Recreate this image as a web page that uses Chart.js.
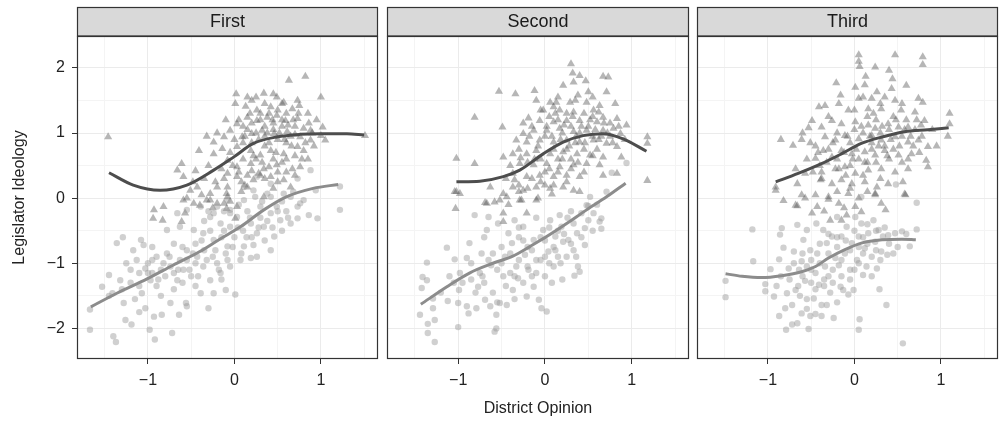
<!DOCTYPE html>
<html>
<head>
<meta charset="utf-8">
<script src="https://cdn.jsdelivr.net/npm/chart.js@4/dist/chart.umd.min.js"></script>
<style>
  html, body { margin: 0; padding: 0; background: #fff; }
  #wrap { position: relative; width: 999px; height: 421px; }
  canvas { position: absolute; top: 0; }
</style>
</head>
<body>
<div id="wrap">
  <canvas id="c1" width="380" height="421" style="left:0px"></canvas>
  <canvas id="c2" width="310" height="421" style="left:380px"></canvas>
  <canvas id="c3" width="309" height="421" style="left:690px"></canvas>
</div>
<script>
// panel titles and axis ticks
var panelNames = ['First', 'Second', 'Third'];
var xTickVals = [-1.5, -1, -0.5, 0, 0.5, 1, 1.5];
var yTickVals = [-2, -1.5, -1, -0.5, 0, 0.5, 1, 1.5, 2];
var X_MIN = -1.82, X_MAX = 1.66;
var Y_MIN = -2.47, Y_MAX = 2.49;

// First panel: triangles (upper group) and circles (lower group), [district opinion, ideology]
var firstTri = [[-1.46,0.94],[0.02,1.6],[0.34,1.61],[0.49,1.55],[0.63,1.81],[0.82,1.87],[1.0,1.55],[0.73,1.5],[0.13,1.41],[0.26,1.35],[0.42,1.4],[0.57,1.47],[0.67,1.37],[0.01,1.45],[0.03,1.14],[0.15,1.24],[0.26,1.19],[0.38,1.24],[0.49,1.27],[0.59,1.19],[0.73,1.22],[0.8,1.07],[0.88,1.04],[1.02,1.09],[1.05,0.89],[1.0,0.96],[1.51,0.96],[-0.24,0.86],[-0.12,0.94],[-0.05,1.04],[0.09,0.94],[0.2,0.99],[0.32,1.04],[0.46,0.99],[0.61,1.02],[0.76,0.94],[0.88,0.89],[-0.41,0.73],[-0.24,0.68],[-0.14,0.76],[0.03,0.79],[0.19,0.73],[0.3,0.66],[0.42,0.73],[0.57,0.68],[0.73,0.79],[0.8,0.73],[-0.61,0.53],[-0.66,0.43],[-0.59,0.33],[-0.08,0.58],[0.03,0.48],[0.19,0.53],[0.34,0.45],[0.49,0.51],[0.67,0.45],[0.76,0.48],[-0.08,0.38],[0.03,0.33],[0.15,0.35],[0.28,0.38],[0.42,0.33],[0.57,0.28],[0.65,0.17],[-0.43,0.17],[-0.51,0.12],[-0.28,0.07],[-0.2,0.17],[-0.08,0.17],[0.15,0.17],[0.34,0.02],[-0.59,-0.03],[-0.47,-0.08],[-0.28,-0.03],[-0.08,0.02],[-0.93,-0.18],[-0.82,-0.13],[-0.12,-0.08],[0.03,-0.13],[-0.94,-0.31],[-0.83,-0.34],[-0.09,0.07],[-0.32,-0.03],[-0.4,-0.11],[-0.2,-0.08],[-0.09,-0.16],[0.01,-0.31],[-0.57,-0.23],[-0.61,-0.36],
  [0.1,1.1],[0.2,1.15],[0.3,1.2],[0.35,1.1],[0.45,1.15],[0.55,1.1],[0.4,1.3],[0.3,1.3],[0.5,1.35],[0.6,1.3],[0.25,1.0],[0.35,0.95],[0.5,0.9],[0.6,0.85],[0.65,0.95],[0.7,1.1],[0.1,0.85],[0.2,0.85],[0.35,0.8],[0.45,0.6],[0.55,0.55],[0.6,0.6],[0.1,0.6],[0.25,0.6],[0.05,0.4],[0.2,0.42],[0.35,0.3],[0.5,0.4],[0.0,0.9],[-0.05,0.7],[0.15,1.05],[0.45,1.05],[0.7,0.65],[0.85,0.6],[0.9,1.0],[0.55,1.2],[0.35,1.45],[0.2,1.5],[0.75,1.42],[-0.3,0.5],[-0.15,0.45],[-0.35,0.3],[-0.45,0.42],[0.12,0.2],[0.45,0.15],[0.7,0.35],
  [0.05,1.2],[0.12,0.95],[0.18,1.3],[0.22,0.65],[0.28,0.9],[0.32,0.55],[0.38,1.0],[0.4,0.85],[0.44,1.2],[0.48,0.7],[0.52,1.0],[0.58,0.9],[0.62,1.12],[0.66,0.8],[0.7,0.98],[0.74,1.3],[0.78,0.6],[0.82,0.85],[0.86,1.15],[0.92,0.8],[0.3,0.35],[0.4,0.48],[0.5,0.25],[0.6,0.4],[0.08,0.25],[0.22,0.28],[-0.02,0.5],[-0.12,0.3],[-0.22,0.25],[-0.38,0.05],[-0.48,0.25],[-0.55,0.0],[-0.25,-0.15],[-0.05,-0.05],[0.08,0.1],[0.25,1.55],[0.45,1.6],[0.55,1.45],[0.15,1.55],[-0.1,1.2],[-0.2,1.0],[-0.32,0.95],[0.95,1.2],[0.68,1.2],[0.85,1.3]];
var firstCirc = [[-1.67,-1.71],[-1.67,-2.02],[-1.4,-2.12],[-1.37,-2.21],[-1.53,-1.36],[-1.45,-1.18],[-1.41,-1.46],[-1.36,-0.69],[-1.29,-0.6],[-1.32,-1.26],[-1.28,-1.61],[-1.26,-1.87],[-1.19,-1.94],[-1.17,-0.8],[-1.08,-0.64],[-1.05,-0.72],[-1.13,-0.95],[-1.03,-1.08],[-0.97,-1.26],[-1.07,-1.46],[-1.03,-1.69],[-0.98,-2.02],[-0.92,-2.17],[-0.93,-1.82],[-0.84,-1.79],[-0.74,-1.61],[-0.72,-2.07],[-0.9,-0.9],[-0.78,-0.85],[-0.74,-1.05],[-0.66,-1.26],[-0.59,-1.1],[-0.63,-0.95],[-0.55,-0.8],[-0.43,-0.9],[-0.36,-1.05],[-0.28,-1.26],[-0.39,-1.46],[-0.55,-1.66],[-0.64,-1.79],[-0.56,-1.61],[-0.3,-1.69],[-0.24,-1.46],[-0.1,-1.41],[0.01,-1.48],[-0.16,-1.15],[-0.05,-1.05],[0.07,-0.95],[0.19,-0.92],[0.26,-0.9],[0.11,-0.74],[-0.08,-0.74],[-0.24,-0.64],[-0.36,-0.54],[-0.47,-0.49],[-0.63,-0.44],[-0.78,-0.49],[-0.66,-0.23],[-0.55,-0.18],[-0.39,-0.13],[-0.28,-0.29],[-0.16,-0.39],[-0.05,-0.44],[0.03,-0.29],[0.19,-0.39],[0.26,-0.54],[0.34,-0.44],[0.42,-0.8],[0.46,-0.59],[0.53,-0.34],[0.42,-0.23],[0.49,-0.13],[0.3,-0.13],[0.11,-0.03],[-0.08,-0.03],[-0.2,-0.13],[-0.05,-0.23],[0.65,-0.39],[0.73,-0.31],[0.73,-0.13],[0.86,-0.26],[0.96,-0.31],[0.94,0.12],[1.22,0.18],[1.22,-0.18],[0.8,-0.03],[0.65,0.02],[0.38,0.07],[0.22,0.12],[0.88,0.43],[0.73,0.3],[0.57,0.07],[0.42,0.02],[0.24,0.02],[0.11,0.17],[0.26,0.33],[0.42,0.22],[0.76,-0.08],[-0.24,-0.23],[-0.05,-0.18],
  [-1.0,-1.0],[-0.95,-1.15],[-0.85,-1.1],[-0.8,-1.2],[-0.7,-1.15],[-0.6,-1.3],[-0.5,-1.2],[-0.45,-1.0],[-0.55,-0.95],[-0.35,-0.8],[-0.25,-0.9],[-0.15,-0.6],[-0.2,-1.0],[-0.1,-0.85],[0.0,-0.6],[0.1,-0.5],[0.2,-0.6],[0.3,-0.3],[0.15,-0.2],[-0.35,-0.35],[-0.45,-0.7],[-0.7,-0.7],[-0.9,-1.35],[-1.1,-1.15],[-1.2,-1.3],[-1.15,-1.55],[-0.85,-1.5],[-0.45,-1.35],[-0.15,-1.25],[0.35,-0.65],[0.55,-0.5],[0.6,-0.2],[-0.95,-0.75],[-1.25,-1.0],
  [-1.2,-1.1],[-1.1,-1.35],[-1.0,-1.15],[-0.95,-0.95],[-0.88,-1.25],[-0.82,-1.0],[-0.75,-0.9],[-0.7,-1.4],[-0.65,-1.1],[-0.6,-0.75],[-0.52,-1.1],[-0.48,-0.85],[-0.42,-1.2],[-0.38,-0.65],[-0.32,-0.95],[-0.28,-0.5],[-0.22,-0.8],[-0.18,-1.1],[-0.12,-0.5],[-0.08,-0.95],[-0.02,-0.75],[0.04,-0.45],[0.08,-0.85],[0.14,-0.6],[0.18,-0.3],[0.22,-0.72],[0.28,-0.45],[0.32,-0.05],[0.38,-0.35],[0.44,-0.45],[0.5,-0.2],[0.55,-0.05],[0.62,-0.3],[0.68,0.1],[-0.3,-0.2],[-0.12,-0.2],[0.05,-0.1],[-1.3,-1.4],[-1.45,-1.5],[-1.1,-1.75]];
var firstTriFit = [[-1.45,0.39],[-1.17,0.2],[-0.86,0.12],[-0.55,0.2],[-0.24,0.43],[-0.01,0.63],[0.22,0.84],[0.49,0.94],[0.76,0.98],[0.99,0.99],[1.3,0.99],[1.5,0.97]];
var firstCircFit = [[-1.66,-1.67],[-1.36,-1.46],[-1.01,-1.24],[-0.71,-1.03],[-0.4,-0.82],[-0.17,-0.63],[0.07,-0.44],[0.34,-0.18],[0.6,0.02],[0.91,0.15],[1.2,0.21]];

// Second panel
var secondTri = [[0.3,2.06],[0.32,1.92],[0.4,1.88],[0.67,1.87],[0.73,1.86],[0.21,1.73],[0.33,1.78],[0.47,1.8],[0.5,1.63],[0.71,1.63],[0.38,1.58],[-0.53,1.64],[-0.34,1.6],[-0.12,1.65],[-0.81,1.24],[-0.19,1.23],[-0.49,1.09],[-1.02,0.61],[-0.81,0.53],[-1.04,0.1],[-0.98,0.07],[1.18,0.94],[1.18,0.84],[1.18,0.27],[0.94,1.12],[0.83,1.22],[0.81,1.45],[0.63,1.42],[0.06,1.47],[0.13,1.47],[0.29,1.47],[0.48,1.47],[-0.02,1.35],[0.17,1.35],[0.33,1.32],[0.56,1.35],[0.67,1.24],[-0.06,1.19],[0.1,1.17],[0.25,1.19],[0.4,1.19],[0.6,1.17],[0.79,1.07],[-0.13,1.04],[0.02,1.04],[0.17,1.07],[0.33,1.02],[0.48,1.04],[0.67,1.04],[0.87,0.99],[-0.25,0.99],[-0.33,0.89],[-0.21,0.86],[-0.06,0.89],[0.1,0.86],[0.25,0.89],[0.4,0.86],[0.56,0.89],[0.71,0.84],[0.83,0.79],[-0.48,0.63],[-0.37,0.68],[-0.21,0.68],[-0.1,0.73],[0.06,0.68],[0.21,0.71],[0.37,0.68],[0.52,0.66],[0.67,0.63],[0.88,0.63],[-0.29,0.53],[-0.13,0.51],[0.02,0.53],[0.17,0.48],[0.33,0.51],[0.48,0.53],[0.63,0.51],[-0.37,0.38],[-0.21,0.33],[-0.06,0.35],[0.1,0.33],[0.25,0.35],[0.4,0.33],[0.67,0.35],[0.83,0.38],[-0.63,0.17],[-0.48,0.07],[-0.37,0.17],[-0.25,0.12],[-0.1,0.17],[0.06,0.15],[0.21,0.17],[0.33,0.12],[-0.67,-0.08],[-0.52,-0.03],[-0.44,0.02],[-0.29,-0.03],[-0.1,-0.03],[-1.03,-0.16],[-1.02,0.1],[-0.69,-0.07],[-0.58,-0.06],[-0.48,-0.23],[-0.48,-0.36],[-0.21,-0.23],[-0.27,-0.03],[-0.08,0.0],[0.08,0.06],[0.4,0.1],
  [0.05,1.25],[0.15,1.2],[0.2,1.0],[0.3,1.1],[0.4,1.0],[0.5,1.1],[0.55,0.95],[0.65,0.95],[0.75,0.95],[0.0,0.95],[0.1,0.75],[0.25,0.75],[0.3,0.6],[0.45,0.75],[0.6,0.75],[-0.05,0.6],[0.15,0.6],[0.35,0.85],[0.45,1.3],[0.25,1.3],[0.1,1.4],[0.55,1.25],[0.75,1.15],[-0.15,1.1],[-0.3,0.75],[-0.4,0.5],[-0.15,0.3],[0.0,0.2],[-0.3,0.2],[0.15,0.4],[0.45,0.4],[-0.2,0.55],[0.05,0.45],[0.3,0.45],[-0.45,0.3],
  [0.02,1.1],[0.08,0.95],[0.12,1.3],[0.18,0.9],[0.22,1.12],[0.28,0.8],[0.32,1.25],[0.36,0.95],[0.42,1.1],[0.46,0.85],[0.52,1.2],[0.58,1.05],[0.62,0.9],[0.68,1.15],[0.72,1.0],[0.78,0.85],[0.85,1.1],[0.92,0.9],[-0.08,0.8],[-0.18,0.95],[-0.28,0.62],[-0.12,0.6],[0.0,0.4],[0.2,0.6],[0.38,0.55],[0.55,0.65],[-0.35,0.28],[-0.2,0.15],[-0.05,0.25],[0.1,0.2],[0.25,0.25],[-0.42,-0.1],[-0.3,0.1],[0.15,1.55],[0.35,1.5],[0.55,1.55],[0.62,1.32],[-0.05,1.35],[-0.1,1.5],[-0.25,1.15]];
var secondCirc = [[-1.44,-1.79],[-1.42,-1.38],[-1.41,-1.21],[-1.36,-1.26],[-1.36,-0.99],[-1.35,-1.93],[-1.35,-2.07],[-1.27,-2.21],[-1.27,-1.87],[-1.29,-1.69],[-1.29,-1.54],[-1.13,-0.76],[-1.12,-1.58],[-1.04,-0.94],[-1.0,-1.98],[-1.0,-1.61],[-0.99,-1.41],[-0.98,-1.15],[-0.9,-0.92],[-0.9,-1.66],[-0.88,-1.77],[-0.87,-0.69],[-0.81,-0.26],[-0.79,-1.69],[-0.77,-1.36],[-0.75,-1.15],[-0.73,-0.85],[-0.69,-1.56],[-0.67,-0.49],[-0.65,-0.29],[-0.63,-1.66],[-0.62,-1.03],[-0.58,-2.05],[-0.56,-2.0],[-0.56,-1.79],[-0.54,-0.39],[-0.52,-1.61],[-0.48,-1.2],[-0.46,-0.9],[-0.44,-1.64],[-0.42,-0.54],[-0.38,-0.69],[-0.37,-1.41],[-0.35,-0.34],[-0.33,-1.05],[-0.31,-1.23],[-0.25,-0.44],[-0.23,-0.87],[-0.21,-1.51],[-0.19,-1.1],[-0.13,-0.64],[-0.13,-1.36],[-0.1,-0.95],[-0.07,-1.56],[-0.04,-1.69],[-0.02,-0.49],[0.0,-1.2],[0.02,-1.74],[0.04,-0.82],[0.06,-0.34],[0.1,-1.05],[0.12,-0.59],[0.15,-0.9],[0.17,-0.26],[0.19,-0.44],[0.21,-0.67],[0.27,-0.64],[0.33,-0.39],[0.33,-0.8],[0.34,-1.19],[0.37,-0.54],[0.38,-1.05],[0.4,-1.13],[0.42,-0.23],[0.46,-0.46],[0.46,-0.72],[0.48,-0.11],[0.5,-0.34],[0.52,0.02],[0.56,-0.23],[0.65,-0.31],[0.65,-0.47],[0.71,0.1],[0.94,0.54],[0.77,0.39],[0.5,-0.12],[0.63,-0.36],
  [-0.3,-0.95],[-0.2,-0.75],[-0.05,-0.95],[0.05,-1.0],[-0.15,-1.2],[-0.4,-1.15],[-0.6,-0.85],[-0.5,-1.0],[-0.25,-1.3],[0.1,-0.75],[0.25,-0.9],[0.15,-0.5],[0.3,-0.2],[-0.1,-0.3],[-0.3,-0.6],[-0.7,-1.3],[-0.85,-1.25],[-1.05,-1.3],[0.2,-1.25],[0.0,-0.65],
  [-1.2,-1.45],[-1.1,-1.2],[-0.95,-1.3],[-0.85,-1.0],[-0.8,-1.45],[-0.72,-1.2],[-0.65,-0.95],[-0.6,-1.45],[-0.55,-1.1],[-0.5,-0.75],[-0.45,-1.35],[-0.4,-0.85],[-0.35,-1.2],[-0.3,-0.45],[-0.25,-0.65],[-0.2,-1.05],[-0.15,-0.8],[-0.1,-1.15],[-0.05,-0.6],[0.0,-0.9],[0.05,-0.45],[0.08,-1.3],[0.12,-0.8],[0.18,-1.0],[0.22,-0.55],[0.26,-0.3],[0.3,-0.7],[0.36,-0.9],[0.42,-0.6],[0.55,-0.5],[0.6,-0.1],[-0.55,-1.6],[-0.35,-1.55],[-0.7,-0.6]];
var secondTriFit = [[-1.02,0.25],[-0.75,0.26],[-0.48,0.33],[-0.29,0.43],[-0.02,0.68],[0.21,0.86],[0.44,0.96],[0.67,0.99],[0.9,0.91],[1.17,0.72]];
var secondCircFit = [[-1.43,-1.63],[-1.13,-1.36],[-0.87,-1.15],[-0.6,-1.0],[-0.37,-0.89],[-0.17,-0.74],[0.02,-0.59],[0.25,-0.39],[0.48,-0.18],[0.71,0.02],[0.93,0.23]];

// Third panel
var thirdTri = [[0.05,2.2],[0.05,2.1],[0.06,2.02],[0.47,2.2],[0.79,2.17],[0.79,2.05],[0.24,2.01],[0.4,1.96],[0.13,1.87],[0.44,1.83],[-0.21,1.77],[0.01,1.7],[0.12,1.74],[0.6,1.73],[0.26,1.63],[0.43,1.68],[-0.16,1.58],[0.05,1.53],[0.2,1.53],[0.35,1.55],[0.47,1.5],[0.74,1.53],[0.79,1.47],[-0.41,1.4],[-0.34,1.42],[-0.18,1.45],[-0.07,1.35],[0.16,1.37],[0.31,1.37],[0.54,1.35],[0.7,1.32],[1.1,1.3],[1.1,1.14],[1.08,0.95],[0.81,1.19],[-0.49,1.19],[-0.53,1.08],[-0.38,1.09],[-0.26,1.19],[-0.15,1.14],[0.01,1.17],[0.16,1.12],[0.24,1.07],[0.39,1.14],[0.51,1.09],[0.62,1.09],[0.77,1.12],[-0.85,0.9],[-0.71,0.81],[-0.61,0.9],[-0.51,0.85],[-0.45,0.8],[-0.34,0.94],[-0.22,0.89],[-0.11,0.96],[0.05,0.91],[0.2,0.96],[0.31,0.89],[0.47,0.94],[0.62,0.86],[0.74,0.89],[0.85,0.79],[-0.45,0.61],[-0.36,0.73],[-0.26,0.63],[-0.15,0.73],[-0.03,0.68],[0.12,0.71],[0.24,0.66],[0.35,0.73],[0.51,0.66],[0.66,0.68],[0.83,0.58],[0.85,0.48],[-0.68,0.45],[-0.57,0.38],[-0.38,0.4],[-0.22,0.45],[-0.11,0.48],[0.01,0.38],[0.16,0.43],[0.31,0.45],[0.47,0.4],[0.62,0.45],[-0.66,0.22],[-0.91,0.17],[-0.39,0.28],[-0.26,0.22],[-0.15,0.28],[-0.03,0.22],[0.12,0.25],[0.26,0.17],[0.39,0.22],[0.56,0.25],[0.58,0.06],[-0.82,-0.04],[-0.68,-0.11],[-0.61,0.05],[-0.45,0.05],[-0.3,0.02],[-0.18,-0.08],[-0.07,0.07],[0.24,0.07],[0.31,-0.08],[-0.91,0.12],[-0.66,-0.12],[-0.57,0.0],[-0.49,-0.23],[-0.43,-0.13],[-0.3,-0.02],[-0.28,-0.34],[-0.15,-0.34],[-0.09,-0.26],[0.01,-0.13],[0.08,-0.21],[0.24,0.05],[0.36,-0.18],[0.59,0.05],
  [0.1,1.0],[0.2,0.85],[0.25,1.2],[0.3,1.0],[0.35,0.8],[0.4,1.05],[0.45,0.75],[0.55,0.95],[0.6,1.2],[0.65,0.95],[0.7,1.05],[-0.05,0.85],[0.0,1.05],[0.05,0.6],[0.15,0.55],[0.25,0.55],[0.4,0.6],[0.55,0.55],[-0.2,0.6],[-0.3,0.75],[-0.1,0.35],[0.1,0.35],[0.3,0.3],[-0.4,0.5],[0.15,1.25],[0.45,1.25],[-0.2,1.0],[0.75,0.7],[0.2,0.75],[-0.05,0.5],
  [0.02,0.75],[0.08,1.1],[0.12,0.55],[0.18,0.95],[0.22,1.3],[0.28,0.8],[0.32,1.1],[0.38,0.65],[0.42,0.9],[0.48,1.2],[0.52,0.8],[0.58,1.05],[0.62,0.6],[0.68,0.8],[0.72,1.2],[0.78,0.95],[-0.02,0.6],[-0.08,0.95],[-0.12,0.7],[-0.18,0.45],[-0.25,0.85],[-0.32,0.55],[-0.38,0.3],[-0.42,0.7],[-0.48,0.4],[-0.55,0.6],[-0.2,0.1],[-0.05,0.15],[0.05,0.0],[0.15,0.1],[-0.35,-0.2],[-0.12,-0.15],[0.0,1.35],[0.3,1.45],[0.55,1.45],[0.9,1.05],[0.95,0.8],[-0.6,1.0],[-0.3,1.25],[0.1,1.55]];
var thirdCirc = [[-1.49,-1.27],[-1.49,-1.52],[-1.18,-0.48],[-1.17,-0.97],[-1.03,-1.32],[-1.03,-1.43],[-0.97,-1.09],[-0.93,-1.51],[-0.87,-0.94],[-0.87,-1.81],[-0.86,-0.56],[-0.84,-0.46],[-0.82,-0.76],[-0.8,-1.69],[-0.79,-2.02],[-0.78,-1.46],[-0.76,-1.08],[-0.72,-1.64],[-0.72,-1.94],[-0.7,-0.82],[-0.68,-1.41],[-0.66,-1.92],[-0.66,-0.41],[-0.64,-1.1],[-0.63,-1.5],[-0.61,-1.77],[-0.61,-0.97],[-0.59,-0.64],[-0.57,-1.27],[-0.55,-0.49],[-0.53,-2.01],[-0.51,-0.8],[-0.51,-1.81],[-0.5,-1.1],[-0.47,-1.54],[-0.45,-1.78],[-0.44,-0.39],[-0.43,-0.85],[-0.41,-1.33],[-0.38,-1.64],[-0.38,-1.81],[-0.36,-0.49],[-0.34,-1.05],[-0.32,-0.69],[-0.32,-1.64],[-0.3,-1.2],[-0.28,-1.45],[-0.26,-0.59],[-0.24,-1.84],[-0.22,-0.92],[-0.2,-0.29],[-0.18,-1.03],[-0.16,-1.36],[-0.15,-0.59],[-0.13,-1.41],[-0.11,-0.85],[-0.09,-0.44],[-0.07,-1.48],[-0.05,-1.1],[-0.03,-0.69],[-0.01,-1.41],[0.01,-0.29],[0.03,-0.95],[0.05,-0.59],[0.05,-2.02],[0.06,-1.86],[0.08,-0.39],[0.1,-1.18],[0.12,-0.77],[0.14,-1.05],[0.16,-0.54],[0.2,-0.9],[0.22,-0.34],[0.24,-0.67],[0.26,-1.08],[0.28,-0.49],[0.29,-1.4],[0.31,-0.82],[0.33,-0.59],[0.37,-1.64],[0.38,-0.87],[0.39,-0.57],[0.45,-0.85],[0.47,-0.54],[0.55,-0.51],[0.56,-2.23],[0.64,-0.74],[0.72,-0.07],[0.72,-0.48],[0.48,0.21],[0.08,0.02],
  [-0.6,-1.2],[-0.5,-1.3],[-0.45,-1.15],[-0.35,-1.25],[-0.25,-1.1],[-0.15,-0.95],[-0.05,-0.8],[0.05,-0.75],[0.15,-0.7],[-0.4,-1.0],[-0.55,-1.05],[-0.2,-0.75],[0.1,-0.6],[0.25,-0.8],[-0.3,-0.85],[0.0,-1.1],
  [-0.75,-1.25],[-0.7,-1.0],[-0.65,-1.35],[-0.6,-0.85],[-0.55,-1.55],[-0.5,-0.95],[-0.45,-1.4],[-0.4,-0.7],[-0.35,-1.35],[-0.3,-0.55],[-0.25,-1.3],[-0.2,-0.6],[-0.15,-1.2],[-0.1,-0.65],[-0.05,-1.25],[0.0,-0.5],[0.05,-1.0],[0.1,-0.85],[0.15,-0.4],[0.2,-1.2],[0.25,-0.5],[0.3,-0.95],[0.35,-0.45],[0.4,-0.7],[0.5,-0.75],[0.6,-0.55],[-0.85,-1.2],[-0.9,-1.35],[-0.55,-1.7],[-0.2,-1.6]];
var thirdTriFit = [[-0.91,0.25],[-0.65,0.38],[-0.38,0.53],[-0.15,0.68],[0.08,0.84],[0.32,0.94],[0.58,1.02],[0.85,1.05],[1.09,1.08]];
var thirdCircFit = [[-1.49,-1.16],[-1.3,-1.2],[-1.07,-1.22],[-0.84,-1.19],[-0.61,-1.13],[-0.45,-1.05],[-0.3,-0.92],[-0.11,-0.79],[0.08,-0.69],[0.32,-0.64],[0.55,-0.63],[0.71,-0.64]];

var FONT = '"Liberation Sans", Arial, Helvetica, sans-serif';

function toXY(arr) {
  return arr.map(function (p) { return { x: p[0], y: p[1] }; });
}

function fmt(v) {
  return v < 0 ? '\u2212' + Math.abs(v) : String(v);
}

function isMajor(v) { return Math.abs(v - Math.round(v)) < 1e-9; }

// strip on top of each panel + dark panel border
var facetPlugin = {
  id: 'facet',
  afterDraw: function (chart) {
    var a = chart.chartArea, ctx = chart.ctx;
    ctx.save();
    ctx.fillStyle = '#d9d9d9';
    ctx.fillRect(a.left, 7, a.right - a.left, a.top - 7);
    ctx.strokeStyle = '#333';
    ctx.lineWidth = 1.2;
    ctx.strokeRect(a.left + 0.5, 7.5, a.right - a.left - 1, a.top - 7.5);
    ctx.strokeRect(a.left + 0.5, a.top + 0.5, a.right - a.left - 1, a.bottom - a.top - 1);
    ctx.fillStyle = '#1a1a1a';
    ctx.font = '18px ' + FONT;
    ctx.textAlign = 'center';
    ctx.textBaseline = 'middle';
    ctx.fillText(chart.options.plugins.facet.title, (a.left + a.right) / 2, (7 + a.top) / 2 + 1);
    ctx.restore();
  }
};

function makePanel(id, idx, tri, circ, triFit, circFit, pad) {
  var first = idx === 0;
  new Chart(document.getElementById(id), {
    type: 'scatter',
    data: {
      datasets: [
        { type: 'line', data: toXY(triFit), borderColor: '#4d4d4d', borderWidth: 3, pointRadius: 0,
          fill: false, cubicInterpolationMode: 'monotone', order: 0 },
        { type: 'line', data: toXY(circFit), borderColor: '#8c8c8c', borderWidth: 3, pointRadius: 0,
          fill: false, cubicInterpolationMode: 'monotone', order: 0 },
        { data: toXY(tri), pointStyle: 'triangle', pointRadius: 4.7, pointBorderWidth: 0,
          backgroundColor: 'rgba(80,80,80,0.42)', borderColor: 'rgba(0,0,0,0)', order: 2 },
        { data: toXY(circ), pointStyle: 'circle', pointRadius: 3.2, pointBorderWidth: 0,
          backgroundColor: 'rgba(150,150,150,0.45)', borderColor: 'rgba(0,0,0,0)', order: 1 }
      ]
    },
    options: {
      responsive: false,
      animation: false,
      events: [],
      layout: { autoPadding: false, padding: { top: 36, bottom: 0, left: pad[0], right: pad[1] } },
      plugins: {
        legend: { display: false },
        tooltip: { enabled: false },
        facet: { title: panelNames[idx] }
      },
      scales: {
        x: {
          type: 'linear', min: X_MIN, max: X_MAX,
          afterBuildTicks: function (s) { s.ticks = xTickVals.map(function (v) { return { value: v }; }); },
          afterFit: function (s) { s.height = 62; },
          border: { display: false },
          grid: {
            color: function (c) { return isMajor(c.tick.value) ? '#ebebeb' : '#f4f4f4'; },
            lineWidth: 1,
            tickColor: function (c) { return isMajor(c.tick.value) ? '#333' : 'rgba(0,0,0,0)'; },
            tickLength: 5,
            drawTicks: true
          },
          ticks: {
            autoSkip: false, maxRotation: 0, padding: 7, color: '#222',
            font: { family: FONT, size: 16 },
            callback: function (v) { return isMajor(v) ? fmt(v) : ''; }
          },
          title: {
            display: idx === 1, text: 'District Opinion', color: '#222',
            font: { family: FONT, size: 16 }, padding: { top: 0, bottom: 3 }
          }
        },
        y: {
          type: 'linear', min: Y_MIN, max: Y_MAX,
          afterBuildTicks: function (s) { s.ticks = yTickVals.map(function (v) { return { value: v }; }); },
          afterFit: function (s) { s.width = first ? 77 : 0; },
          border: { display: false },
          grid: {
            color: function (c) { return isMajor(c.tick.value) ? '#ebebeb' : '#f4f4f4'; },
            lineWidth: 1,
            tickColor: function (c) { return first && isMajor(c.tick.value) ? '#333' : 'rgba(0,0,0,0)'; },
            tickLength: first ? 5 : 0,
            drawTicks: first
          },
          ticks: {
            display: first, autoSkip: false, padding: 7, color: '#222',
            font: { family: FONT, size: 16 },
            callback: function (v) { return isMajor(v) ? fmt(v) : ''; }
          },
          title: {
            display: first, text: 'Legislator Ideology', color: '#222',
            font: { family: FONT, size: 16 }, padding: { top: 10, bottom: 0 }
          }
        }
      }
    },
    plugins: [facetPlugin]
  });
}

makePanel('c1', 0, firstTri, firstCirc, firstTriFit, firstCircFit, [0, 2]);
makePanel('c2', 1, secondTri, secondCirc, secondTriFit, secondCircFit, [7, 1]);
makePanel('c3', 2, thirdTri, thirdCirc, thirdTriFit, thirdCircFit, [7, 1]);
</script>
</body>
</html>
